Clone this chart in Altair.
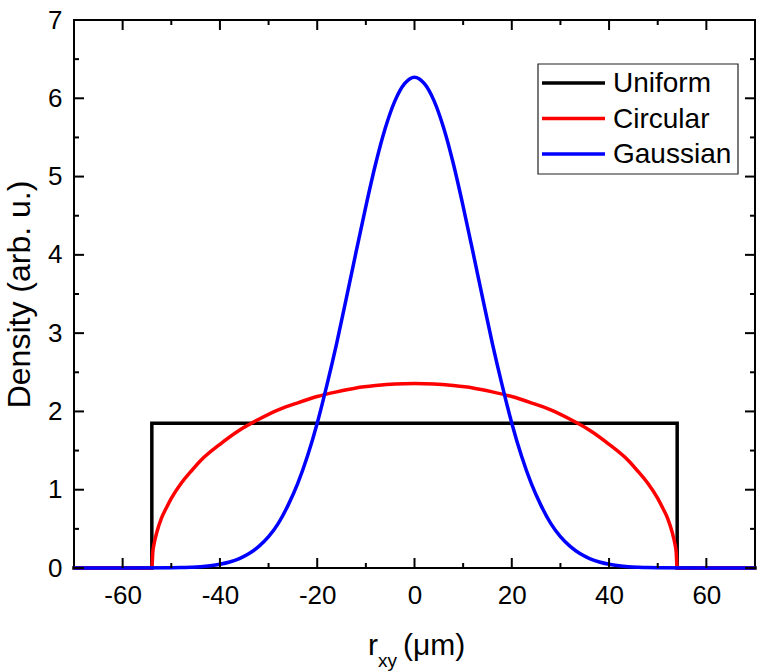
import altair as alt
import pandas as pd

# Series names and their line colours
SERIES = ["Uniform", "Circular", "Gaussian"]
COLORS = ["#000000", "#ff0000", "#0000ff"]

# Uniform (flat-top) profile
UNIFORM_X = [-70, -54, -54, 54, 54, 70]
UNIFORM_Y = [0, 0, 1.85, 1.85, 0, 0]

# Circular (semi-elliptical) profile
CIRC_X = [-70, -54, -53.8, -53.5, -53, -52, -51, -50, -48, -46, -44, -40, -36, -32,
          -28, -24, -20, -16, -12, -8, -4, 0, 4, 8, 12, 16, 20, 24, 28, 32, 36, 40,
          44, 46, 48, 50, 51, 52, 53, 53.5, 53.8, 54, 70]
CIRC_Y = [0, 0, 0.20, 0.32, 0.45, 0.64, 0.77, 0.89, 1.08, 1.23, 1.37, 1.58, 1.76, 1.90,
          2.02, 2.11, 2.19, 2.25, 2.30, 2.33, 2.35, 2.356, 2.35, 2.33, 2.30, 2.25, 2.19,
          2.11, 2.02, 1.90, 1.76, 1.58, 1.37, 1.23, 1.08, 0.89, 0.77, 0.64, 0.45, 0.32,
          0.20, 0, 0]

# Gaussian profile
GAUSS_X = [-70, -60, -50, -48, -46, -44, -42, -40, -38, -36, -34, -32, -30, -28, -26,
           -24, -22, -20, -18, -16, -14, -12, -10, -8, -6, -4, -2, 0, 2, 4, 6, 8, 10,
           12, 14, 16, 18, 20, 22, 24, 26, 28, 30, 32, 34, 36, 38, 40, 42, 44, 46, 48,
           50, 60, 70]
GAUSS_Y = [0, 0, 0.003, 0.005, 0.01, 0.017, 0.029, 0.048, 0.077, 0.121, 0.185, 0.276,
           0.40, 0.57, 0.80, 1.08, 1.43, 1.85, 2.34, 2.87, 3.45, 4.04, 4.62, 5.16, 5.62,
           5.97, 6.19, 6.27, 6.19, 5.97, 5.62, 5.16, 4.62, 4.04, 3.45, 2.87, 2.34, 1.85,
           1.43, 1.08, 0.80, 0.57, 0.40, 0.276, 0.185, 0.121, 0.077, 0.048, 0.029, 0.017,
           0.01, 0.005, 0.003, 0, 0]

# Axis ticks
X_MAJOR = [-60, -40, -20, 0, 20, 40, 60]
X_MINOR = [-50, -30, -10, 10, 30, 50]
Y_MAJOR = [0, 1, 2, 3, 4, 5, 6, 7]
Y_MINOR = [0.5, 1.5, 2.5, 3.5, 4.5, 5.5, 6.5]

W, H = 681, 548
FONT = "Liberation Sans"


def series_frame(name, xs, ys):
    return pd.DataFrame({"r": xs, "density": ys, "series": name,
                         "i": list(range(len(xs)))})


x_scale = alt.Scale(domain=[-70, 70], nice=False, zero=False)
y_scale = alt.Scale(domain=[0, 7], nice=False, zero=False)
color_scale = alt.Scale(domain=SERIES, range=COLORS)

x_axis = alt.Axis(values=X_MAJOR, title=None, ticks=False, tickSize=0, domain=False,
                  grid=False, labelFontSize=26, labelFont=FONT, labelColor="black",
                  labelPadding=14, labelFlush=False, labelExpr="'' + datum.value")
y_axis = alt.Axis(values=Y_MAJOR, title="Density (arb. u.)", ticks=False, tickSize=0,
                  domain=False, grid=False, labelFontSize=26, labelFont=FONT,
                  labelColor="black", labelPadding=12, labelFlush=False,
                  labelExpr="'' + datum.value",
                  titleFontSize=32, titleFont=FONT, titleFontWeight="normal",
                  titleColor="black", titlePadding=11)


def xe(field="r"):
    return alt.X(f"{field}:Q", scale=x_scale, axis=x_axis)


def ye(field="density"):
    return alt.Y(f"{field}:Q", scale=y_scale, axis=y_axis)


color = alt.Color("series:N", scale=color_scale, legend=None)

uniform = alt.Chart(series_frame("Uniform", UNIFORM_X, UNIFORM_Y)).mark_line(
    strokeWidth=3.5, strokeJoin="miter", strokeCap="square"
).encode(x=xe(), y=ye(), color=color, order="i:Q")

circular = alt.Chart(series_frame("Circular", CIRC_X, CIRC_Y)).mark_line(
    strokeWidth=3.5, interpolate="monotone"
).encode(x=xe(), y=ye(), color=color, order="i:Q")

gaussian = alt.Chart(series_frame("Gaussian", GAUSS_X, GAUSS_Y)).mark_line(
    strokeWidth=3.5, interpolate="monotone"
).encode(x=xe(), y=ye(), color=color, order="i:Q")

# Inward ticks on all four sides of the frame (tick marks centred half a length inside)
tick_layers = []
for vals, length in [(X_MAJOR, 10), (X_MINOR, 5)]:
    d = pd.DataFrame({"r": vals})
    for ypos in (H - length / 2, length / 2):
        tick_layers.append(alt.Chart(d).mark_tick(
            color="black", thickness=2, size=length, orient="vertical", opacity=1
        ).encode(x=xe(), y=alt.value(ypos)))
for vals, length in [(Y_MAJOR, 10), (Y_MINOR, 5)]:
    d = pd.DataFrame({"density": vals})
    for xpos in (length / 2, W - length / 2):
        tick_layers.append(alt.Chart(d).mark_tick(
            color="black", thickness=2, size=length, orient="horizontal", opacity=1
        ).encode(y=ye(), x=alt.value(xpos)))

# Legend box with line samples and labels
LEG_X0, LEG_Y0, LEG_W, LEG_H = 464, 44, 200, 110
ROW0, ROW_STEP = 63, 35.5
legend_layers = [
    alt.Chart(pd.DataFrame({"k": [0]})).mark_rect(
        fill="white", stroke="#222222", strokeWidth=1.2
    ).encode(x=alt.value(LEG_X0), x2=alt.value(LEG_X0 + LEG_W),
             y=alt.value(LEG_Y0), y2=alt.value(LEG_Y0 + LEG_H))
]
for i, (name, col) in enumerate(zip(SERIES, COLORS)):
    yy = ROW0 + ROW_STEP * i
    legend_layers.append(
        alt.Chart(pd.DataFrame({"series": [name]})).mark_rule(
            color=col, strokeWidth=3.5
        ).encode(x=alt.value(468), x2=alt.value(531), y=alt.value(yy)))
    legend_layers.append(
        alt.Chart(pd.DataFrame({"series": [name]})).mark_text(
            align="left", baseline="middle", fontSize=28, font=FONT, color="black"
        ).encode(text="series:N", x=alt.value(539), y=alt.value(yy + 1)))

# x-axis title with subscript: r_xy (µm)
title_layers = [
    alt.Chart(pd.DataFrame({"t": ["r"]})).mark_text(
        align="left", baseline="alphabetic", fontSize=30, font=FONT, color="black"
    ).encode(text="t:N", x=alt.value(294), y=alt.value(634.5)),
    alt.Chart(pd.DataFrame({"t": ["xy"]})).mark_text(
        align="left", baseline="alphabetic", fontSize=19, font=FONT, color="black"
    ).encode(text="t:N", x=alt.value(304), y=alt.value(647)),
    alt.Chart(pd.DataFrame({"t": ["(\u03bcm)"]})).mark_text(
        align="left", baseline="alphabetic", fontSize=30, font=FONT, color="black"
    ).encode(text="t:N", x=alt.value(329), y=alt.value(634.5)),
]

chart = alt.layer(
    uniform, circular, gaussian, *tick_layers, *legend_layers, *title_layers
).properties(
    width=W, height=H,
    autosize=alt.AutoSizeParams(type="none"),
    padding={"left": 74, "top": 20, "right": 4, "bottom": 103},
).configure_view(stroke="black", strokeWidth=2)

chart.save("out.html", embed_options={"renderer": "svg", "actions": False})
